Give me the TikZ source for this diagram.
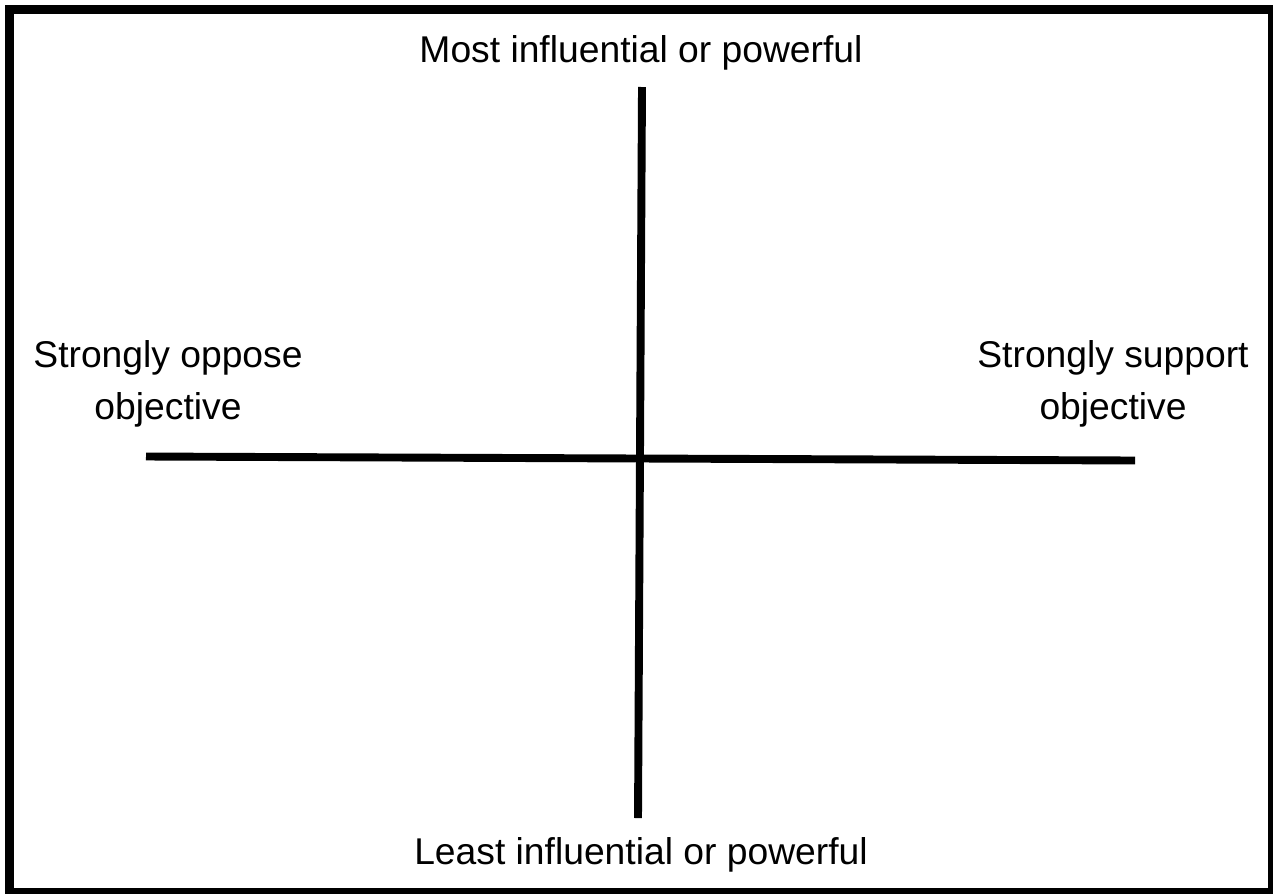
\documentclass[tikz,border=0pt]{standalone}
\usepackage{fontspec}
\setmainfont{Liberation Sans}
\usetikzlibrary{positioning}
\tikzset{
  axis/.style={line width=4.5pt, line cap=butt},
  label/.style={font=\fontsize{21.2}{29.5}\selectfont, align=center, inner sep=0pt}
}
\begin{document}
\begin{tikzpicture}[x=0.02cm, y=-0.02cm]
			\useasboundingbox (0,0) rectangle (1273,893);

			% Draw the frame
			\draw[line width=5.1pt] (9.5,9.5) rectangle (1272,892);

			% Ends of the two axes
			\coordinate (top) at (642,87);
			\coordinate (bottom) at (638,818);
			\coordinate (left) at (146,456.5);
			\coordinate (right) at (1135,460.5);

			% Draw the axes
			\draw[axis] (top) -- (bottom);
			\draw[axis] (left) -- (right);

			% Labels at the four ends
			\node[label] (most) at (641,53) {Most influential or powerful};
			\node[label] (least) at (641,855) {Least influential or powerful};
			\node[label] (oppose) at (168,384) {Strongly oppose\\objective};
			\node[label] (support) at (1113,384) {Strongly support\\objective};

\end{tikzpicture}
\end{document}
